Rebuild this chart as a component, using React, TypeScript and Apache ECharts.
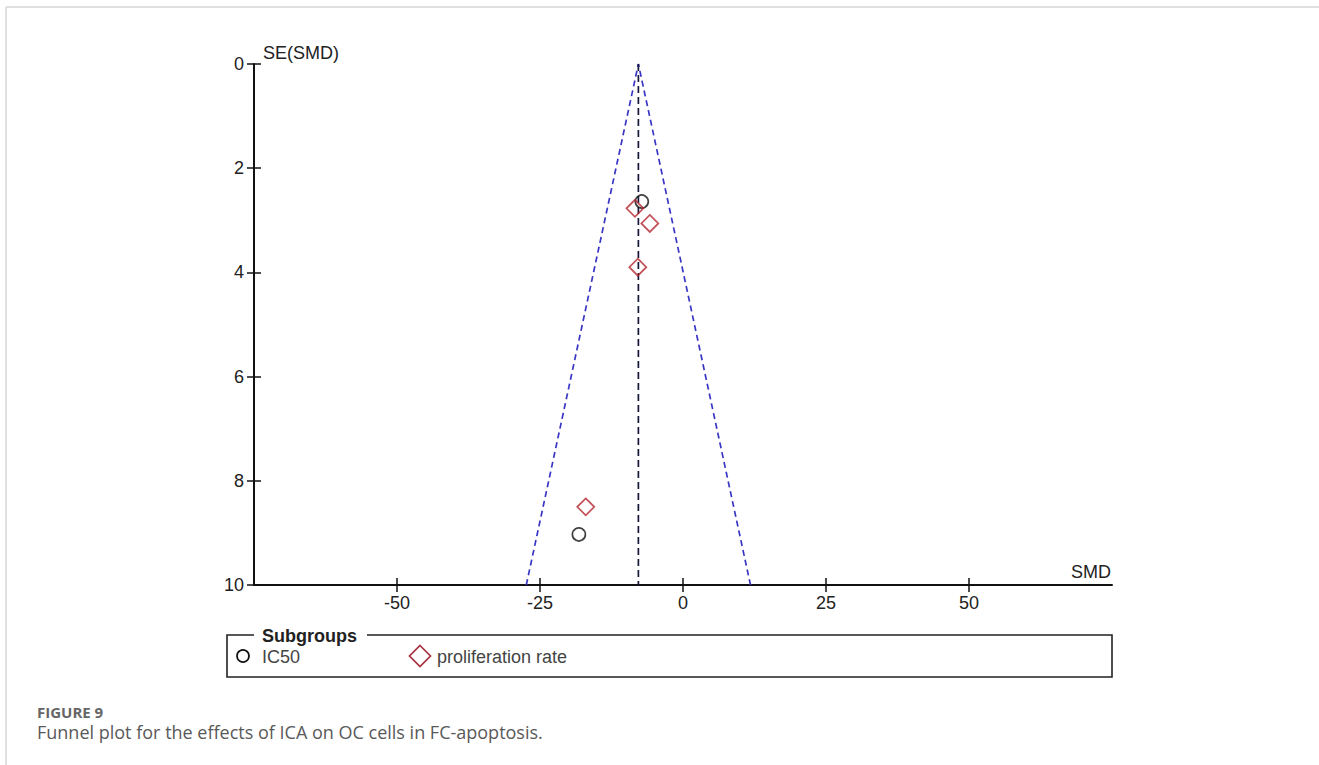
import { useEffect, useRef } from "react";
import * as echarts from "echarts";

// Funnel plot: standardised mean difference vs. its standard error
const xTicks = [-50, -25, 0, 25, 50];

const ic50SMD = [-7.2, -18.2];
const ic50SE = [2.64, 9.03];

const prolifSMD = [-8.4, -5.8, -7.9, -17.0];
const prolifSE = [2.77, 3.06, 3.9, 8.5];

// pooled estimate and the 95% pseudo-confidence funnel
const pooledSMD = -7.8;
const funnelSMD = [-27.4, -7.8, 11.8];
const funnelSE = [10, 0, 10];
const pooledSE = [0, 10];

const W = 1319;
const H = 765;
const FONT = "'Liberation Sans', Arial, sans-serif";
const CAPTION_FONT = "'Open Sans', 'Noto Sans', sans-serif";

const zip = (xs: number[], ys: number[]) => xs.map((x, i) => [x, ys[i]]);

export default function App() {
  const ref = useRef<HTMLDivElement>(null);

  useEffect(() => {
    document.body.style.margin = "0";
    if (!ref.current) return;
    const chart = echarts.init(ref.current, undefined, { renderer: "svg" });

    const axisText = { fontSize: 18, color: "#222", fontFamily: FONT };
    const tickStyle = { color: "#111", width: 1.5 };

    chart.setOption({
      animation: false,
      backgroundColor: "#fff",
      grid: { left: 254, right: W - 1112, top: 64, bottom: H - 585 },
      xAxis: [
        {
          type: "value",
          min: -75,
          max: 75,
          interval: 25,
          position: "bottom",
          axisLine: { onZero: false, lineStyle: { color: "#111", width: 2 } },
          axisTick: { customValues: xTicks, length: 7, lineStyle: tickStyle },
          axisLabel: { customValues: xTicks, margin: 9, ...axisText },
          splitLine: { show: false },
        },
        {
          // inner half of the crossing x ticks
          type: "value",
          min: -75,
          max: 75,
          interval: 25,
          position: "bottom",
          axisLine: { show: false, onZero: false },
          axisTick: { inside: true, customValues: xTicks, length: 7, lineStyle: tickStyle },
          axisLabel: { show: false },
          splitLine: { show: false },
        },
      ],
      yAxis: [
        {
          type: "value",
          inverse: true,
          min: 0,
          max: 10,
          interval: 2,
          position: "left",
          axisLine: { show: true, onZero: false, lineStyle: { color: "#111", width: 2 } },
          axisTick: { show: true, length: 7, lineStyle: tickStyle },
          axisLabel: { margin: 10, ...axisText },
          splitLine: { show: false },
        },
        {
          // inner half of the crossing y ticks
          type: "value",
          inverse: true,
          min: 0,
          max: 10,
          interval: 2,
          position: "left",
          axisLine: { show: false, onZero: false },
          axisTick: { show: true, inside: true, length: 7, lineStyle: tickStyle },
          axisLabel: { show: false },
          splitLine: { show: false },
        },
      ],
      series: [
        {
          name: "funnel",
          type: "line",
          data: zip(funnelSMD, funnelSE),
          symbol: "none",
          silent: true,
          lineStyle: { color: "#3a36c4", width: 1.7, type: [6, 4] },
          z: 1,
        },
        {
          name: "pooled",
          type: "line",
          data: zip([pooledSMD, pooledSMD], pooledSE),
          symbol: "none",
          silent: true,
          lineStyle: { color: "#16163a", width: 1.7, type: [7, 4] },
          z: 1,
        },
        {
          name: "IC50",
          type: "scatter",
          data: zip(ic50SMD, ic50SE),
          symbol: "circle",
          symbolSize: 13,
          itemStyle: { color: "rgba(0,0,0,0)", borderColor: "#111", borderWidth: 1.7 },
          z: 3,
        },
        {
          name: "proliferation rate",
          type: "scatter",
          data: zip(prolifSMD, prolifSE),
          symbol: "diamond",
          symbolSize: 17,
          itemStyle: { color: "rgba(0,0,0,0)", borderColor: "#b3262e", borderWidth: 1.7 },
          z: 3,
        },
      ],
      graphic: [
        // page frame
        { type: "line", shape: { x1: 6, y1: 7, x2: W, y2: 7 }, style: { stroke: "#d6d6d6", lineWidth: 1.5 } },
        { type: "line", shape: { x1: 6, y1: 7, x2: 6, y2: H }, style: { stroke: "#d6d6d6", lineWidth: 1.5 } },
        // axis titles
        {
          type: "text",
          x: 263,
          y: 53,
          style: { text: "SE(SMD)", fontSize: 18, fill: "#222", fontFamily: FONT, verticalAlign: "middle" },
        },
        {
          type: "text",
          x: 1111,
          y: 572,
          style: { text: "SMD", fontSize: 18, fill: "#222", fontFamily: FONT, align: "right", verticalAlign: "middle" },
        },
        // subgroup legend box
        {
          type: "rect",
          shape: { x: 227, y: 635, width: 885, height: 42 },
          style: { fill: "none", stroke: "#222", lineWidth: 1.6 },
        },
        {
          type: "rect",
          shape: { x: 254, y: 626, width: 113, height: 18 },
          style: { fill: "#fff" },
        },
        {
          type: "text",
          x: 262,
          y: 636,
          style: { text: "Subgroups", fontSize: 18, fontWeight: "bold", fill: "#222", fontFamily: FONT, verticalAlign: "middle" },
        },
        {
          type: "circle",
          shape: { cx: 243, cy: 656, r: 6 },
          style: { fill: "none", stroke: "#111", lineWidth: 1.7 },
        },
        {
          type: "text",
          x: 262,
          y: 657,
          style: { text: "IC50", fontSize: 18, fill: "#444", fontFamily: FONT, verticalAlign: "middle" },
        },
        {
          type: "polygon",
          shape: { points: [[420, 645.5], [430.5, 656], [420, 666.5], [409.5, 656]] },
          style: { fill: "none", stroke: "#a83040", lineWidth: 1.7 },
        },
        {
          type: "text",
          x: 437,
          y: 657,
          style: { text: "proliferation rate", fontSize: 18, fill: "#444", fontFamily: FONT, verticalAlign: "middle" },
        },
        // figure caption
        {
          type: "text",
          x: 37,
          y: 712,
          style: { text: "FIGURE 9", fontSize: 15, fontWeight: "bold", fill: "#666", fontFamily: CAPTION_FONT, verticalAlign: "middle" },
        },
        {
          type: "text",
          x: 37,
          y: 732,
          style: {
            text: "Funnel plot for the effects of ICA on OC cells in FC-apoptosis.",
            fontSize: 18,
            fill: "#595959",
            fontFamily: CAPTION_FONT,
            verticalAlign: "middle",
          },
        },
      ],
    });

    return () => chart.dispose();
  }, []);

  return <div ref={ref} style={{ width: W, height: H }} />;
}
